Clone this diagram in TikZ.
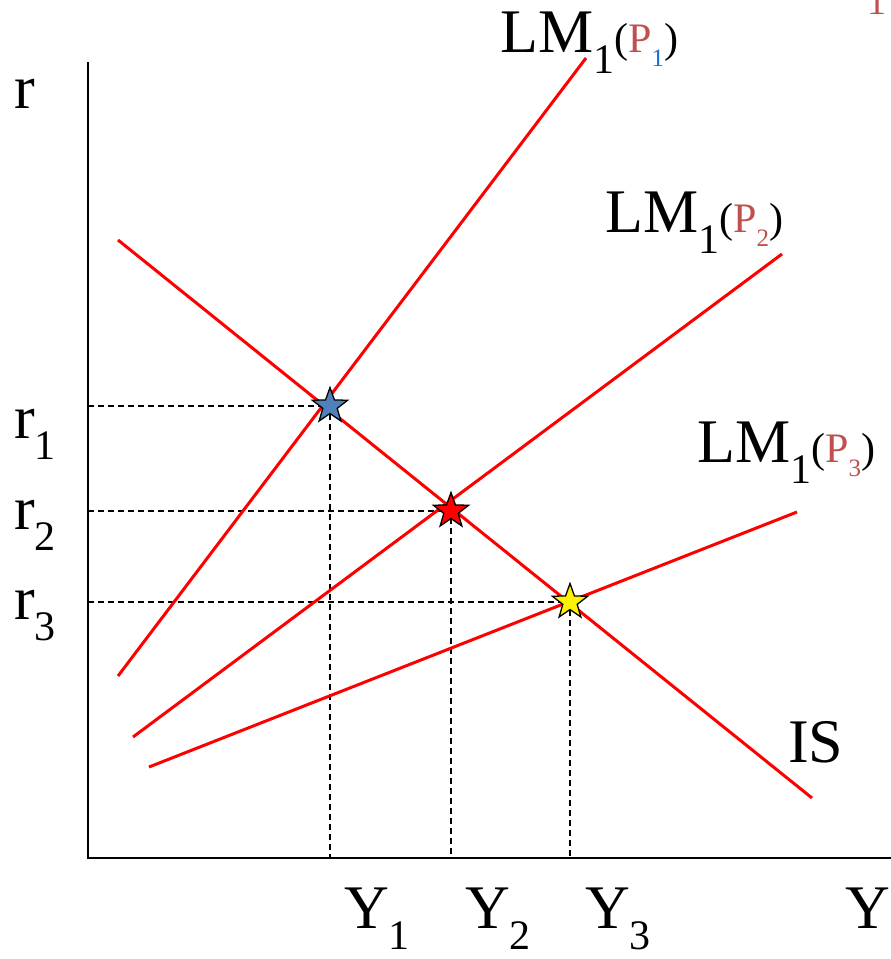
\documentclass[tikz,border=0pt]{standalone}
\usepackage{fontspec}
\setmainfont{Liberation Serif}
\usepackage{xcolor}
\usetikzlibrary{shapes.geometric}
\definecolor{pred}{HTML}{C0504D}
\definecolor{pblue}{HTML}{1A6FE0}
\definecolor{starblue}{HTML}{4F81BD}
\newcommand{\bigtxt}{\fontsize{62bp}{62bp}\selectfont}
\newcommand{\lowsub}[1]{\raisebox{-21bp}{\fontsize{42bp}{42bp}\selectfont #1}}
\newcommand{\pricelvl}[2]{{\fontsize{42bp}{42bp}\selectfont(\textcolor{pred}{P}\raisebox{-14bp}{\fontsize{25bp}{25bp}\selectfont\textcolor{#1}{#2}})}}

\begin{document}
\begin{tikzpicture}[
    x=1bp, y=-1bp,
    curve/.style={red, line width=3bp},
    guide/.style={dash pattern=on 6bp off 4bp, line width=1.3bp},
    axis/.style={line width=2bp},
    eq/.style={star, star points=5, star point ratio=2.45, draw=black, line width=1.3bp, minimum size=37bp, inner sep=0pt},
    lbl/.style={anchor=base west, inner sep=0pt, font=\bigtxt},
]
\useasboundingbox (0,0) rectangle (891,959);

% === Axes ===
\coordinate (origin) at (88,858);
\coordinate (rtop) at (88,62);
\coordinate (yend) at (891,858);
\draw[axis] (rtop) -- (origin) -- (yend);

% === Curve end points ===
\coordinate (is0) at (118,240);
\coordinate (is1) at (812,798);
\coordinate (lma0) at (118,676);
\coordinate (lma1) at (586,58);
\coordinate (lmb0) at (133,737);
\coordinate (lmb1) at (782,254);
\coordinate (lmc0) at (149,767);
\coordinate (lmc1) at (797,512);

% Equilibria
\coordinate (e1) at (330,406);
\coordinate (e2) at (451,511);
\coordinate (e3) at (570,602);

% Guides to the axes
\draw[guide] (e1 -| origin) -- (e1) -- (e1 |- origin);
\draw[guide] (e2 -| origin) -- (e2) -- (e2 |- origin);
\draw[guide] (e3 -| origin) -- (e3) -- (e3 |- origin);

% IS and LM curves
\draw[curve] (is0) -- (is1);
\draw[curve] (lma0) -- (lma1);
\draw[curve] (lmb0) -- (lmb1);
\draw[curve] (lmc0) -- (lmc1);

% Stars
\node[eq, fill=starblue] (s1) at (e1) {};
\node[eq, fill=red] (s2) at (e2) {};
\node[eq, fill=yellow] (s3) at (e3) {};

% === Labels ===
\node[lbl] (lmalbl) at (500,52) {LM\lowsub{1}\pricelvl{pblue}{1}};
\node[lbl] (lmblbl) at (605,232) {LM\lowsub{1}\pricelvl{pred}{2}};
\node[lbl] (lmclbl) at (697,462) {LM\lowsub{1}\pricelvl{pred}{3}};
\node[lbl] (islbl) at (788,762) {IS};
\node[anchor=base, inner sep=0pt, font=\fontsize{38bp}{38bp}\selectfont, text=pred] (cut) at (877,14) {1};

\node[lbl] (rlbl) at (14,108) {r};
\node[lbl] (r1lbl) at (14,438) {r\lowsub{1}};
\node[lbl] (r2lbl) at (14,529) {r\lowsub{2}};
\node[lbl] (r3lbl) at (14,619) {r\lowsub{3}};

\node[lbl] (y1lbl) at (344,928) {Y\lowsub{1}};
\node[lbl] (y2lbl) at (465,928) {Y\lowsub{2}};
\node[lbl] (y3lbl) at (585,928) {Y\lowsub{3}};
\node[lbl] (ylbl) at (845,928) {Y};

\end{tikzpicture}
\end{document}
